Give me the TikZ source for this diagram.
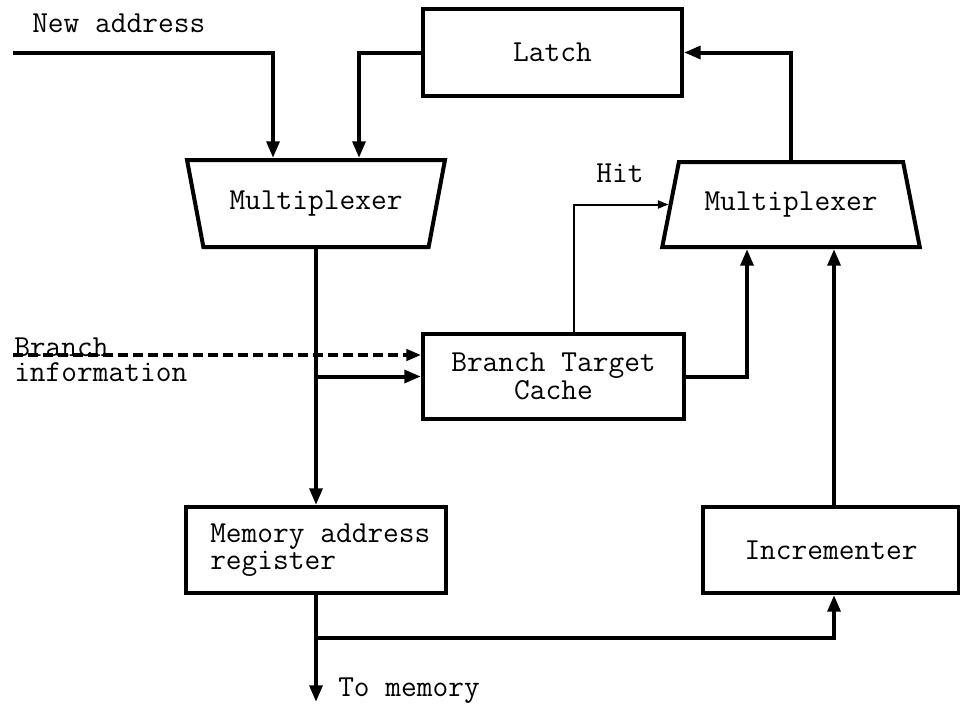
\documentclass[tikz,border=0pt]{standalone}
\usepackage{fontspec}
\usetikzlibrary{shapes.geometric,arrows.meta,calc}
\begin{document}
\begin{tikzpicture}[x=0.75pt,y=-0.75pt,
  txt/.style={font=\ttfamily\fontsize{22.9}{18.75}\selectfont},
  lbl/.style={txt,inner sep=0pt},
  box/.style={txt,draw,line width=3pt,rectangle,inner sep=0pt,align=center},
  mux/.style={txt,draw,line width=3pt,trapezium,trapezium stretches=true,
              inner sep=0pt,minimum width=193.5pt},
  wire/.style={line width=3pt,-{Triangle[length=12.5pt,width=9.5pt]}},
  dashwire/.style={line width=2.5pt,dash pattern=on 7.5pt off 3.75pt,
                   -{Triangle[length=11pt,width=8.5pt]}},
  thinwire/.style={line width=1.5pt,-{Triangle[length=8pt,width=6pt]}}]
\useasboundingbox (0,0) rectangle (960,707);

% functional blocks
\node[box,minimum width=194.25pt,minimum height=65.25pt] (latch) at (552.5,52.5) {Latch};
\node[mux,trapezium left angle=116.3,trapezium right angle=116.3,
      minimum height=65.25pt] (muxL) at (316,203.5) {Multiplexer};
\node[mux,trapezium left angle=63.2,trapezium right angle=63.2,
      minimum height=63.75pt] (muxR) at (791,204.5) {Multiplexer};
\node[box,minimum width=195.75pt,minimum height=63.75pt] (btc) at (553.5,376.5) {Branch Target\\Cache};
\node[box,minimum width=195pt,minimum height=64.5pt] (mar) at (316,550) {};
\node[box,minimum width=192pt,minimum height=64.5pt] (incr) at (831,550) {Incrementer};
\node[lbl,anchor=west,align=left] (martext) at ($(mar.west)+(26,0)$) {Memory address\\register};

% free labels
\node[lbl,anchor=west] (lnew) at (32,23) {New address};
\node[lbl] (lhit) at (620,173) {Hit};
\node[lbl,anchor=west,align=left] (lbr) at (14,360) {Branch\\information};
\node[lbl,anchor=west] (lmem) at (338,691) {To memory};

% ports and free ends
\coordinate (newin) at (13,53);
\coordinate (lA) at ($(muxL.north)+(-43,0)$);
\coordinate (lB) at ($(muxL.north)+(43,0)$);
\coordinate (rA) at ($(muxR.south)+(-44,0)$);
\coordinate (rB) at ($(muxR.south)+(43,0)$);
\coordinate (binfo) at (13,355);
\coordinate (jb) at (muxL.south |- btc.west);
\coordinate (hitfoot) at ($(btc.north)+(20,0)$);
\coordinate (jm) at ($(mar.south)+(0,43)$);
\coordinate (tomem) at ($(mar.south)+(0,107)$);

% connections
\draw[wire] (newin) -| (lA);
\draw[wire] (latch.west) -| (lB);
\draw[wire] (muxL.south) -- (muxL.south |- mar.north);
\draw[wire] (jb) -- (btc.west);
\draw[dashwire] (binfo) -- (binfo -| btc.west);
\draw[thinwire] (hitfoot) |- (muxR.west);
\draw[wire] (btc.east) -| (rA);
\draw[wire] (rB |- incr.north) -- (rB);
\draw[wire] (muxR.north) |- (latch.east);
\draw[wire] (mar.south) -- (tomem);
\draw[wire] (jm) -| (rB |- incr.south);
\end{tikzpicture}
\end{document}
